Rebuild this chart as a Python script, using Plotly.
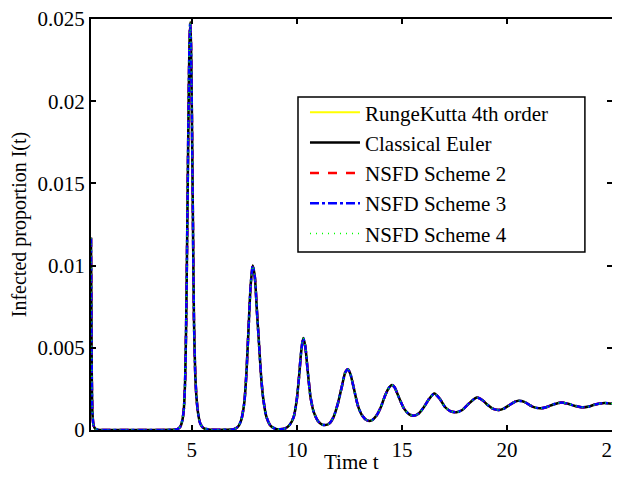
import plotly.graph_objects as go

# Time points
t_values = [0.2, 0.22, 0.24, 0.27, 0.32, 0.4, 0.5, 1.0, 2.0, 3.0, 4.0, 4.3, 4.45, 4.55, 4.62,
            4.68, 4.73, 4.78, 4.83, 4.88, 4.92, 4.96, 5.0, 5.05, 5.10, 5.16, 5.22, 5.3, 5.4,
            5.55, 5.8, 6.5, 7.0, 7.2, 7.35, 7.5, 7.6, 7.7, 7.8, 7.9, 8.0, 8.1, 8.2, 8.3, 8.4,
            8.55, 8.75, 9.0, 9.2, 9.45, 9.65, 9.85, 10.0, 10.1, 10.2, 10.3, 10.4, 10.5, 10.65,
            10.8, 11.0, 11.2, 11.36, 11.55, 11.75, 11.95, 12.15, 12.3, 12.43, 12.55, 12.7,
            12.9, 13.1, 13.35, 13.55, 13.8, 14.0, 14.2, 14.4, 14.52, 14.65, 14.85, 15.1,
            15.35, 15.55, 15.8, 16.05, 16.3, 16.54, 16.8, 17.05, 17.3, 17.6, 17.85, 18.1,
            18.35, 18.57, 18.85, 19.1, 19.35, 19.6, 19.85, 20.1, 20.35, 20.55, 20.85, 21.1,
            21.35, 21.62, 21.9, 22.2, 22.58, 22.9, 23.2, 23.61, 23.9, 24.2, 24.64, 25.0]

# Infected proportion I(t) (all schemes overlap in the picture)
infected = [0.0117, 0.0070, 0.0030, 0.0010, 0.0003, 0.00008, 0.00002, 0.0, 0.0, 0.0, 0.00001,
            0.00005, 0.0002, 0.0006, 0.0013, 0.0030, 0.0065, 0.0120, 0.0180, 0.0230, 0.0248,
            0.0235, 0.0195, 0.0130, 0.0068, 0.0035, 0.0020, 0.0010, 0.0004, 0.00012, 0.00003,
            0.00001, 0.00005, 0.0002, 0.0006, 0.0017, 0.0035, 0.0062, 0.0088, 0.0100, 0.0093,
            0.0072, 0.0052, 0.0032, 0.0019, 0.0008, 0.00025, 0.00006, 0.00004, 0.0001, 0.0003,
            0.0008, 0.0019, 0.0032, 0.0047, 0.0056, 0.0051, 0.0038, 0.0020, 0.0011, 0.00055,
            0.00033, 0.0003, 0.0004, 0.0008, 0.0016, 0.0027, 0.0035, 0.0037, 0.0034, 0.0026,
            0.0015, 0.0009, 0.00058, 0.00058, 0.0009, 0.0014, 0.0021, 0.0026, 0.00274, 0.0026,
            0.0020, 0.0013, 0.00095, 0.00087, 0.0010, 0.0014, 0.0019, 0.00222, 0.0019, 0.0014,
            0.00115, 0.00108, 0.0012, 0.0015, 0.0018, 0.00197, 0.0018, 0.0015, 0.00128,
            0.00122, 0.0013, 0.0015, 0.0017, 0.00178, 0.0017, 0.0015, 0.00136, 0.00132,
            0.0014, 0.00155, 0.00168, 0.0016, 0.00148, 0.00138, 0.00143, 0.00155, 0.00164,
            0.0016]

series_names = ["RungeKutta 4th order", "Classical Euler", "NSFD Scheme 2",
                "NSFD Scheme 3", "NSFD Scheme 4"]

x_title = "Time t"
y_title = "Infected proportion I(t)"
x_tick_values = [5, 10, 15, 20, 25]
y_tick_values = [0, 0.005, 0.01, 0.015, 0.02, 0.025]
y_tick_labels = ["0", "0.005", "0.01", "0.015", "0.02", "0.025"]

styles = [
    dict(color="#ffff00", dash="solid", width=2),
    dict(color="#000000", dash="solid", width=2.5),
    dict(color="#ff0000", dash="dash", width=2.5),
    dict(color="#0000ff", dash="dashdot", width=2.5),
    dict(color="#00ff00", dash="1px,5px", width=1.5),
]

FONT = "Liberation Serif, Times New Roman, serif"

fig = go.Figure()
for name, st in zip(series_names, styles):
    fig.add_trace(go.Scatter(
        x=t_values, y=infected, mode="lines", name=name,
        line=dict(color=st["color"], dash=st["dash"], width=st["width"],
                  shape="spline", smoothing=0.6),
    ))

axis_common = dict(
    showgrid=False, zeroline=False, showline=True, linecolor="black", linewidth=2,
    mirror="ticks", ticks="inside", ticklen=5, tickwidth=1.5, tickcolor="black",
    tickfont=dict(family=FONT, size=21, color="black"), automargin=False,
    ticklabeloverflow="allow",
)

# Legend frame (MATLAB style box)
fig.add_shape(type="rect", xref="paper", yref="paper",
              x0=0.3973, x1=0.948, y0=0.433, y1=0.810,
              line=dict(color="black", width=1.5), fillcolor="white", layer="above")

# x-axis title as an annotation under the axis
fig.add_annotation(text=x_title, xref="paper", yref="paper", x=0.5, y=0,
                   xanchor="center", yanchor="middle", yshift=-32, showarrow=False,
                   font=dict(family=FONT, size=21, color="black"))

# The page body has an 8px default margin, so the figure is offset by 8px.
fig.update_layout(
    width=612, height=463,
    margin=dict(l=83, r=8, t=11, b=41),
    paper_bgcolor="white", plot_bgcolor="white",
    font=dict(family=FONT, size=20, color="black"),
    xaxis=dict(range=[0.2, 25], tickvals=x_tick_values, **axis_common),
    yaxis=dict(range=[0, 0.025], tickvals=y_tick_values, ticktext=y_tick_labels,
               title=dict(text=y_title, font=dict(family=FONT, size=20), standoff=6),
               **axis_common),
    legend=dict(x=0.4107, y=0.822, xanchor="left", yanchor="top",
                bgcolor="rgba(0,0,0,0)", borderwidth=0,
                font=dict(family=FONT, size=21), tracegroupgap=0, itemwidth=50),
    showlegend=True,
)

fig.write_html("out.html")
